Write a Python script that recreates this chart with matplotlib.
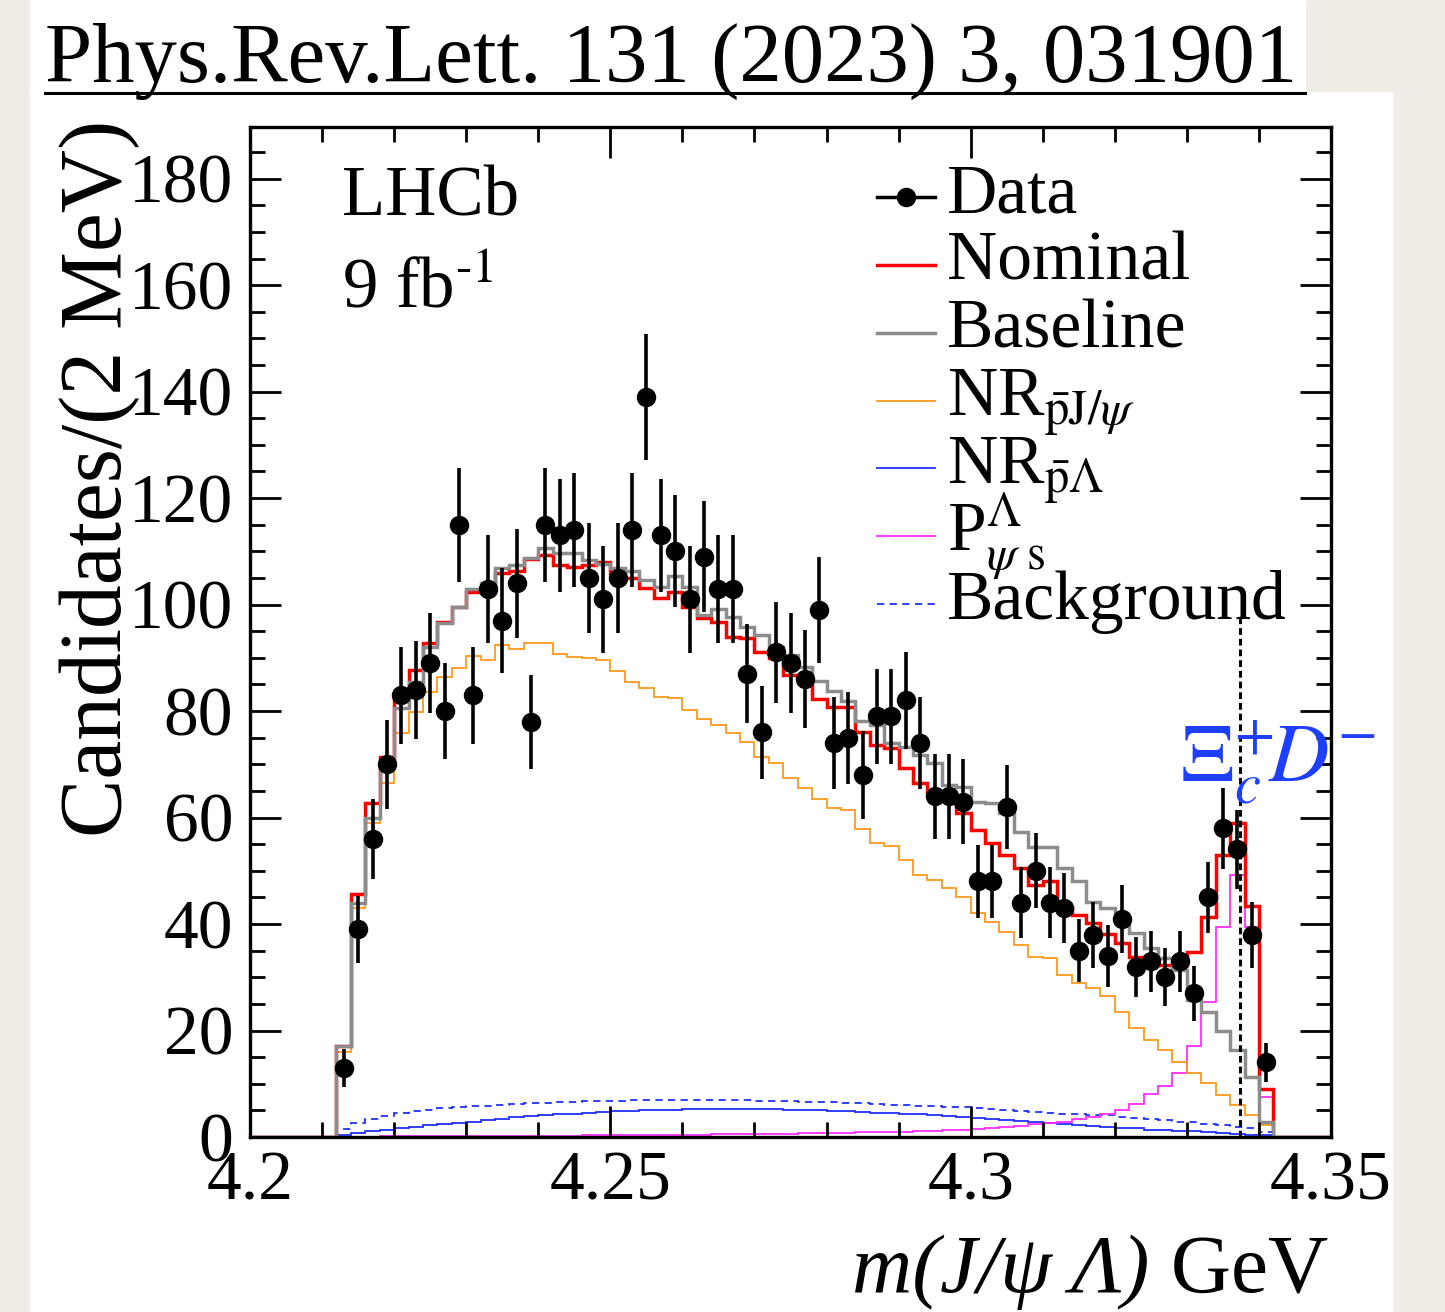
import numpy as np
import matplotlib
matplotlib.use('Agg')
from matplotlib import pyplot as plt
from matplotlib.patches import Rectangle
from matplotlib.ticker import MultipleLocator, FixedLocator
plt.rcParams['font.family'] = ['Liberation Serif', 'DejaVu Serif']
plt.rcParams['mathtext.fontset'] = 'stix'

# m(J/psi Lambda) binning, GeV (2 MeV bins)
bin_lo = 4.212
bin_w = 0.002

counts = [13, 39, 56, 70, 83, 84, 89, 80, 115, 83,
          103, 97, 104, 78, 115, 113, 114, 105, 101, 105,
          114, 139, 113, 110, 101, 109, 103, 103, 87, 76,
          91, 89, 86, 99, 74, 75, 68, 79, 79, 82,
          74, 64, 64, 63, 48, 48, 62, 44, 50, 44,
          43, 35, 38, 34, 41, 32, 33, 30, 33, 27,
          45, 58, 54, 38, 14]

nominal = [17, 45.6, 62.7, 71.3, 82.4, 87.7, 92.8, 96.7, 99.5, 102.3,
           102.7, 106, 106.3, 108.5, 109.3, 107.4, 107, 107.4, 108, 106,
           105, 103.2, 101.3, 102.3, 99.5, 97.4, 96.7, 93.9, 93.7, 91,
           89.9, 86.8, 85.8, 82.2, 80.7, 80.8, 76, 73.6, 73, 69.3,
           66.5, 64.8, 63.3, 60.8, 57.7, 55.2, 53, 50.5, 47.3, 48,
           43.2, 41.7, 40.2, 38.2, 36.5, 33.8, 33.6, 32.3, 32.3, 34.8,
           41.3, 53, 59, 43.4, 9]

baseline = [17, 44, 60, 70, 80.5, 85.5, 92, 96.5, 99.6, 103,
            104, 106.8, 107.4, 108.8, 110.6, 109.7, 109.7, 108.3, 107.7, 106.8,
            106.4, 104.6, 103.3, 105.4, 103.3, 98, 99.2, 97.7, 95.8, 94.3,
            92, 90.5, 88.3, 85.6, 83.8, 81.8, 78.2, 77.4, 74, 73.3,
            71.7, 70.2, 66.1, 65.8, 63, 62.7, 60.8, 57.3, 54.5, 54.5,
            50.5, 48, 44.1, 43, 41, 38.3, 35.5, 33.6, 31.4, 25.7,
            23.5, 20, 16.3, 11.3, 2.8]

nr_pjpsi = [16, 43, 59, 66.5, 75.8, 79.9, 83.6, 86.4, 88, 90.3,
            89.6, 92.4, 91.6, 92.8, 92.8, 90.8, 90.2, 89.9, 89.6, 87.5,
            85.5, 84.3, 82.7, 82.5, 80.2, 78.6, 77.4, 75.8, 74.2, 71.4,
            70.2, 67.4, 65.5, 63.4, 61.7, 61.5, 57.8, 55.2, 54.6, 52,
            49.2, 48.3, 46.7, 45.1, 42, 40.4, 38.5, 36, 33.8, 33.6,
            30.4, 28.9, 28, 26.5, 23.5, 20.4, 18.2, 16.3, 14.1, 12,
            10.1, 7.9, 6, 4.1, 2.3]

nr_plam = [0.4, 0.8, 1.1, 1.4, 1.6, 1.9, 2.2, 2.5, 2.7, 2.9,
           3.2, 3.4, 3.7, 4.0, 4.1, 4.3, 4.4, 4.6, 4.7, 4.8,
           4.9, 5.0, 5.1, 5.1, 5.2, 5.2, 5.2, 5.2, 5.2, 5.2,
           5.2, 5.1, 5.1, 5.0, 4.9, 4.8, 4.7, 4.6, 4.5, 4.4,
           4.3, 4.1, 4.0, 3.8, 3.6, 3.4, 3.2, 3.0, 2.8, 2.6,
           2.4, 2.2, 2.0, 1.9, 1.7, 1.6, 1.4, 1.3, 1.2, 1.1,
           0.9, 0.8, 0.6, 0.4, 0.3]

pcs = [0.0, 0.0, 0.0, 0.1, 0.1, 0.1, 0.1, 0.1, 0.1, 0.1,
       0.1, 0.1, 0.2, 0.2, 0.2, 0.2, 0.2, 0.3, 0.3, 0.3,
       0.3, 0.3, 0.4, 0.4, 0.4, 0.4, 0.5, 0.5, 0.5, 0.6,
       0.6, 0.6, 0.7, 0.7, 0.8, 0.8, 0.9, 0.9, 1.0, 1.0,
       1.1, 1.2, 1.3, 1.4, 1.5, 1.7, 1.9, 2.1, 2.4, 2.6,
       2.9, 3.3, 3.8, 4.4, 5.0, 6.2, 8.0, 9.5, 12.0, 17.0,
       25.4, 39.4, 49.2, 39.4, 7.5]

background = [1.5, 2.6, 3.3, 3.9, 4.5, 4.8, 5.1, 5.4, 5.6, 5.8,
              5.9, 6.1, 6.2, 6.3, 6.4, 6.5, 6.6, 6.7, 6.8, 6.8,
              6.9, 6.9, 7.0, 7.0, 7.0, 7.0, 7.0, 6.9, 6.9, 6.8,
              6.8, 6.7, 6.6, 6.6, 6.5, 6.4, 6.3, 6.2, 6.1, 6.0,
              5.9, 5.8, 5.7, 5.6, 5.4, 5.2, 5.0, 4.9, 4.7, 4.5,
              4.4, 4.3, 4.2, 4.1, 3.8, 3.6, 3.3, 3.1, 2.9, 2.8,
              2.5, 2.2, 1.9, 1.6, 1.0]

threshold = 4.3374  # Xi_c+ D- threshold
xlo, xhi = 4.2, 4.35

edges = bin_lo + bin_w * np.arange(len(counts) + 1)
centers = edges[:-1] + bin_w / 2
full_edges = np.concatenate([[xlo], edges, [xhi]])

def pad(v):
    return np.concatenate([[0.0], v, [0.0]])

W, H = 1445, 1312
fig = plt.figure(figsize=(W / 100, H / 100), dpi=100, facecolor='#f1ece6')
fig.patches.append(Rectangle((30 / W, 1 - 95 / H), 1275 / W, 95 / H,
                             transform=fig.transFigure, color='white', zorder=-10))
fig.patches.append(Rectangle((30 / W, 0), 1362 / W, 1 - 92 / H,
                             transform=fig.transFigure, color='white', zorder=-10))

ax = fig.add_axes([250 / W, 1 - 1137 / H, 1081 / W, 1010 / H])
ax.set_facecolor('white')

ax.stairs(pad(nr_plam), full_edges, baseline=None, color='#2030ff', lw=1.3)
ax.stairs(pad(background), full_edges, baseline=None, color='#2030ff', lw=1.3,
          ls=(0, (4, 3)))
ax.stairs(pad(pcs), full_edges, baseline=None, color='#ff2cff', lw=1.3)
ax.stairs(pad(nr_pjpsi), full_edges, baseline=None, color='#ff9a1a', lw=1.3)
ax.stairs(pad(nominal), full_edges, baseline=None, color='#ff0000', lw=2.5)
ax.stairs(pad(baseline), full_edges, baseline=None, color='#8c8c8c', lw=2.5)

ax.plot([threshold, threshold], [0, 98], color='k', lw=2.2, ls=(0, (2.2, 1.3)))

ax.errorbar(centers, counts, yerr=np.sqrt(counts), fmt='o', color='k',
            ms=13, elinewidth=2.6, capsize=0, zorder=5)

ax.set_xlim(xlo, xhi)
ax.set_ylim(0, 189.7)
ax.xaxis.set_major_locator(FixedLocator([4.2, 4.25, 4.3, 4.35]))
ax.set_xticklabels(['4.2', '4.25', '4.3', '4.35'])
ax.xaxis.set_minor_locator(MultipleLocator(0.01))
ax.yaxis.set_major_locator(MultipleLocator(20))
ax.yaxis.set_minor_locator(MultipleLocator(5))
ax.tick_params(which='both', direction='in', top=True, right=True, width=2)
ax.tick_params(which='major', length=22, labelsize=50)
ax.tick_params(which='minor', length=11)
ax.tick_params(axis='y', pad=12)
ax.tick_params(axis='x', pad=10)
for s in ax.spines.values():
    s.set_linewidth(2.4)

# legend drawn by hand in axes fraction
rows = [('Data', 'k', '-', 'o'),
        ('Nominal', '#ff0000', '-', None),
        ('Baseline', '#8c8c8c', '-', None),
        (r'NR$_{\bar{\mathrm{p}}\mathrm{J}/\psi}$', '#ff9a1a', '-', None),
        (r'NR$_{\bar{\mathrm{p}}\Lambda}$', '#2030ff', '-', None),
        (r'P$^{\Lambda}_{\psi\ \mathrm{s}}$', '#ff2cff', '-', None),
        ('Background', '#2030ff', (0, (4, 3)), None)]
x0, x1, xt = 0.580, 0.634, 0.645
y_top, dy = 0.9307, 0.0672
for i, (lab, c, ls, mk) in enumerate(rows):
    y = y_top - i * dy
    lw = 2.5 if i in (0, 1, 2) else 1.3
    ax.plot([x0, x1], [y, y], transform=ax.transAxes, color=c, ls=ls, lw=lw,
            clip_on=False)
    if mk:
        ax.plot([(x0 + x1) / 2], [y], transform=ax.transAxes, marker='o',
                color='k', ms=13, clip_on=False)
    ax.text(xt, y - 0.0149, lab, transform=ax.transAxes, fontsize=50,
            ha='left', va='baseline')

ax.text(92 / 1081, (1137 - 215) / 1010, 'LHCb',
        transform=ax.transAxes, fontsize=51, ha='left', va='baseline')
ax.text(92 / 1081, (1137 - 307) / 1010, r'9 fb$^{\text{-1}}$',
        transform=ax.transAxes, fontsize=51, ha='left', va='baseline')

fig.text(1180 / W, 1 - 782 / H, r'$\Xi_c^{+}\!D^{-}$', color='#1f3fff',
         fontsize=60, ha='left', va='baseline')

# x-axis title: italic mass expression followed by the unit
unit = fig.text(1328 / W, 1 - 1292 / H, ' GeV', fontsize=60,
                ha='right', va='baseline')
fig.canvas.draw()
ux = unit.get_window_extent().x0
fig.text(ux / W, 1 - 1292 / H, 'm(J/ψ Λ)', fontsize=60, style='italic',
         ha='right', va='baseline')

fig.text(100 / W, 1 - 120 / H, 'Candidates/(2 MeV)', rotation=90,
         fontsize=63, ha='center', va='top')

fig.text(45 / W, 1 - 82 / H, 'Phys.Rev.Lett. 131 (2023) 3, 031901',
         fontsize=61, ha='left', va='baseline')
fig.add_artist(plt.Line2D([45 / W, 1305 / W], [1 - 93 / H, 1 - 93 / H],
                          transform=fig.transFigure, color='k', lw=2.2))

fig.savefig('out.png', dpi=100, facecolor=fig.get_facecolor())
